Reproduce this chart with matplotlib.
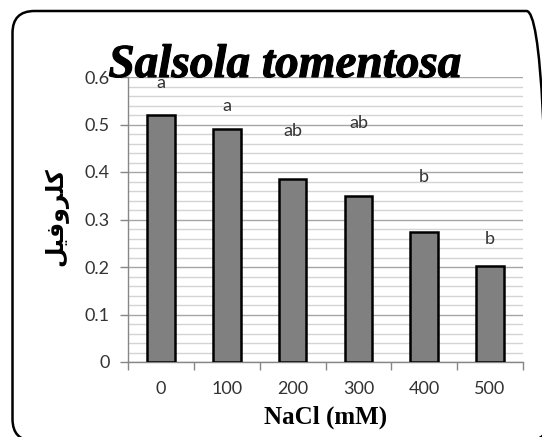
import matplotlib
matplotlib.use("Agg")
import matplotlib.pyplot as plt
import matplotlib.patheffects as pe
from matplotlib.patches import FancyBboxPatch
import numpy as np

# data
nacl = ["0", "100", "200", "300", "400", "500"]
chlorophyll = [0.52, 0.49, 0.386, 0.349, 0.274, 0.203]
letters = ["a", "a", "ab", "ab", "b", "b"]
letter_y = [0.587, 0.538, 0.486, 0.503, 0.39, 0.26]

title = "Salsola tomentosa"
xlabel = "NaCl (mM)"
# Arabic "كلروفيل" in presentation forms, visual order (matplotlib does no shaping)
ylabel = "\uFEDE\uFEF4\uFED3\uFEED\uFEAE\uFEE0\uFEDB"

W, H = 542, 437
fig = plt.figure(figsize=(W / 100, H / 100), dpi=100)
ax = fig.add_axes([128 / W, 1 - 362 / H, 395 / W, 285 / H])

x = np.arange(len(nacl))
ax.bar(x, chlorophyll, width=0.42, color="#808080", edgecolor="black",
       linewidth=1.8, zorder=3)

for xi, lab, ly in zip(x, letters, letter_y):
    ax.text(xi, ly, lab, ha="center", va="center", fontsize=13,
            family="Lato", color="#333333", zorder=4)

ax.set_xlim(-0.5, 5.5)
ax.set_ylim(0, 0.6)

# y axis
ax.set_yticks(np.arange(0, 0.61, 0.1))
ax.set_yticklabels(["0", "0.1", "0.2", "0.3", "0.4", "0.5", "0.6"])
ax.set_yticks(np.arange(0, 0.601, 0.02), minor=True)
ax.tick_params(axis="y", which="major", length=6, width=1, color="#868686",
               pad=7, labelsize=13, labelcolor="#333333")
ax.tick_params(axis="y", which="minor", length=0)
ax.grid(axis="y", which="major", color="#a6a6a6", linewidth=1, zorder=0)
ax.grid(axis="y", which="minor", color="#d4d4d4", linewidth=1, zorder=0)

# x axis: labels at centers, tick marks at category boundaries
ax.set_xticks(x)
ax.set_xticklabels(nacl)
ax.set_xticks(np.arange(-0.5, 5.6, 1), minor=True)
ax.tick_params(axis="x", which="major", length=0, pad=14, labelsize=13,
               labelcolor="#333333")
ax.tick_params(axis="x", which="minor", length=6, width=1, color="#868686")
for lab in ax.get_xticklabels() + ax.get_yticklabels():
    lab.set_family("Lato")

for side in ["top", "right"]:
    ax.spines[side].set_visible(False)
for side in ["left", "bottom"]:
    ax.spines[side].set_color("#868686")
    ax.spines[side].set_linewidth(1)

ax.set_xlabel(xlabel, fontsize=18, fontweight="bold", family="Liberation Serif",
              labelpad=6)

fig.text(285 / W, 1 - 77 / H, title, ha="center", va="baseline", fontsize=34,
         fontweight="bold", fontstyle="italic", family="Liberation Serif",
         zorder=10,
         path_effects=[pe.withStroke(linewidth=0.8, foreground="black")])
fig.text(56 / W, 1 - 217 / H, ylabel, ha="center", va="center", rotation=90,
         fontsize=17, fontweight="bold", family="DejaVu Sans")

# rounded chart-area border, right and bottom edges run off the canvas
frame = FancyBboxPatch((12.5 / W, -4 / H), 536 / W, 430 / H,
                       boxstyle="round,pad=0,rounding_size=%f" % (22 / W),
                       mutation_aspect=W / H,
                       transform=fig.transFigure, facecolor="none",
                       edgecolor="black", linewidth=1.8, clip_on=False)
fig.patches.append(frame)

fig.savefig("out.png", dpi=100)
